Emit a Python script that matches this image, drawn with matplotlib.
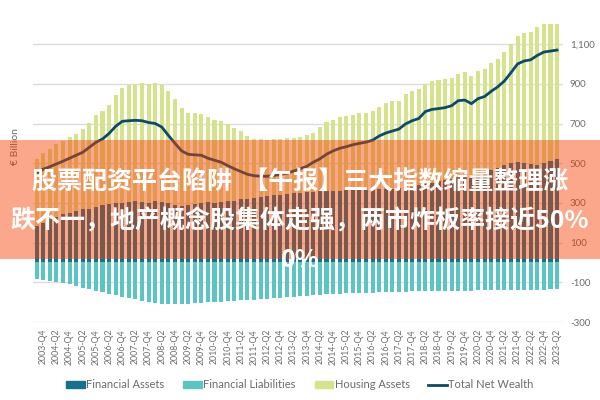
import matplotlib
matplotlib.use("Agg")
from matplotlib import pyplot as plt
from matplotlib.patches import Patch, Rectangle
from matplotlib.lines import Line2D
from matplotlib.ticker import FuncFormatter
import numpy as np

# quarters 2003-Q3 .. 2023-Q2
quarters = [f"{y}-Q{q}" for y in range(2003, 2024) for q in range(1, 5)][2:82]

financial_assets = [
    183, 201, 217, 230, 242, 250, 259, 267, 270, 281, 287, 292, 297, 301, 304, 309,
    305, 300, 308, 305, 298, 288, 284, 290, 296, 301, 305,
    302, 305, 310, 312, 318, 322, 326, 330, 334, 338, 342, 346, 350, 352, 355, 357,
    358, 360, 362, 362, 364, 365, 365, 366, 367, 368, 370, 371,
    373, 377, 382, 388, 395, 402, 408, 414, 420, 428, 434, 424, 440, 452, 465,
    477, 489, 499, 507, 502, 494, 490, 499, 511, 519,
]
housing_assets = [
    340, 348, 356, 365, 369, 383, 388, 403, 434, 460, 476, 503, 545, 578, 588, 588,
    599, 599, 596, 587, 565, 534, 496, 464, 455, 445, 429,
    418, 409, 385, 367, 344, 315, 296, 290, 284, 282, 280, 280, 278, 281, 287, 296,
    324, 347, 358, 372, 373, 379, 389, 388, 394, 417, 435, 440,
    440, 470, 481, 484, 502, 512, 509, 508, 507, 523, 525, 515, 524, 521, 541,
    549, 571, 603, 633, 655, 668, 694, 700, 688, 680,
]
financial_liabilities = [
    -82, -89, -94, -99, -106, -111, -119, -128, -136, -143, -150, -158, -165,
    -173, -181, -186, -193, -198, -203, -207, -208, -208, -208, -207, -205,
    -203, -201, -199, -197, -195, -193, -191, -190, -188, -186, -184, -181, -179,
    -176, -173, -171, -168, -166, -163, -161, -159, -158, -156, -155, -154, -153,
    -152, -151, -150, -149, -148, -147, -146, -146, -145, -145, -144, -144, -143,
    -143, -142, -142, -141, -141, -140, -140, -139, -139, -138, -138, -137, -137,
    -137, -136, -136,
]
net_wealth = [
    450, 470, 482, 496, 510, 525, 540, 555, 580, 605, 622, 650, 686, 711, 714, 716,
    714, 705, 700, 682, 640, 600, 562, 545, 542, 540, 525, 515, 505, 488, 472, 458,
    444, 437, 434, 434, 438, 443, 450, 460, 472, 484, 505, 522, 545, 562, 575, 583,
    593, 600, 606, 616, 637, 652, 662, 672, 698, 714, 725, 760, 771, 775, 780, 790,
    815, 818, 800, 825, 836, 862, 885, 914, 956, 1000, 1015, 1021, 1043, 1060, 1065, 1070,
]

c_fa = "#17708c"
c_fl = "#5cc5c4"
c_house = "#d5e38c"
c_net = "#0e4a66"
grey = "#6b6b6b"

plt.rcParams["font.family"] = ["Lato", "DejaVu Sans"]

fig = plt.figure(figsize=(6, 4), dpi=100)
ax = fig.add_axes([33 / 600, 1 - 322 / 400, 530 / 600, 317.6 / 400])

x = np.arange(len(quarters))
w = 0.62
ax.bar(x, financial_assets, w, color=c_fa, zorder=2)
ax.bar(x, housing_assets, w, bottom=financial_assets, color=c_house, zorder=2)
ax.bar(x, financial_liabilities, w, color=c_fl, zorder=2)
ax.plot(x, net_wealth, color=c_net, lw=2, zorder=3)

ax.set_ylim(-300, 1300)
ax.set_xlim(-0.55, 79.9)
ax.set_yticks(range(-300, 1101, 200))
ax.yaxis.set_major_formatter(FuncFormatter(lambda v, p: f"{int(v):,}"))
ax.yaxis.tick_right()
ax.tick_params(axis="y", length=0, pad=5, labelsize=7, labelcolor=grey)
ax.grid(axis="y", color="#dcdcdc", lw=1)
ax.set_axisbelow(True)

ax.set_xticks(x[1::2])
ax.set_xticklabels(quarters[1::2], rotation=90, fontsize=6.3, color=grey)
ax.tick_params(axis="x", length=0, pad=5)
for s in ax.spines.values():
    s.set_visible(False)

fig.text(16 / 600, 1 - 147 / 400, "€ Billion", rotation=90, ha="center", va="center",
         fontsize=7.5, color=grey)

handles = [
    Patch(color=c_fa, label="Financial Assets"),
    Patch(color=c_fl, label="Financial Liabilities"),
    Patch(color=c_house, label="Housing Assets"),
    Line2D([], [], color=c_net, lw=2, label="Total Net Wealth"),
]
fig.legend(handles=handles, loc="center", bbox_to_anchor=(0.5, 1 - 385 / 400), ncol=4,
           frameon=False, fontsize=8, labelcolor=grey, handlelength=1.7, handleheight=0.6,
           handletextpad=0.1, columnspacing=1.7)

# banner on top
fig.add_artist(Rectangle((0, 1 - 259 / 400), 1, 119 / 400, transform=fig.transFigure,
                         facecolor="#f53d00", alpha=0.45, lw=0, zorder=5))
cjk = ["Noto Sans CJK SC", "DejaVu Sans"]
lines = ["股票配资平台陷阱  【午报】三大指数缩量整理涨",
         "跌不一，地产概念股集体走强，两市炸板率接近50%",
         "0%"]
for i, t in enumerate(lines):
    fig.text(0.5, 1 - (182 + 39 * i) / 400, t, ha="center", va="center", fontsize=18,
             fontweight="bold", color="white", family=cjk, zorder=6)

fig.savefig("out.png")
